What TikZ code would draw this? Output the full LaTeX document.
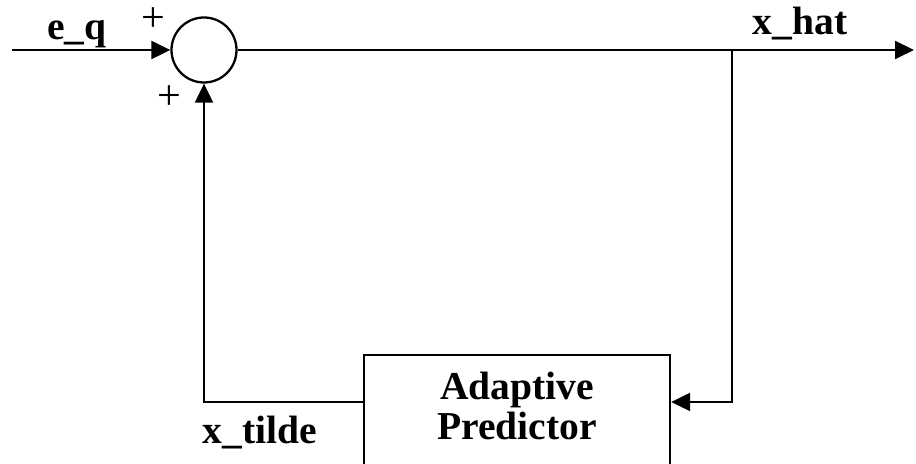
\documentclass[tikz,border=0pt]{standalone}
\usepackage{fontspec}
\setmainfont{Liberation Serif}
\usetikzlibrary{arrows.meta}

\tikzset{
    sig/.style={line width=1.3pt, -{Triangle[length=10.8pt, width=10.2pt]}},
    block/.style={draw, line width=1.3pt, minimum width=6.12cm, minimum height=2.56cm, inner sep=0pt},
    sumnode/.style={draw, circle, line width=1.3pt, minimum size=1.3cm, inner sep=0pt},
    lbl/.style={font=\bfseries\fontsize{22.5}{22.8}\selectfont, inner sep=0pt},
    sgn/.style={font=\fontsize{24}{26}\selectfont, inner sep=0pt}
}

\begin{document}
\begin{tikzpicture} %loop
            \useasboundingbox (0,0) rectangle (18.32,9.28);

            \node[sumnode] (sum) at (4.08,8.28) {};
            \node[block] (pred) at (10.34,0.9) {};
            \node[lbl, align=center, anchor=base] (predtxt) at (10.34,0.48) {Adaptive\\Predictor};

            \coordinate (in) at (0.24,8.28);
            \coordinate (out) at (18.28,8.28);
            \coordinate (br) at (14.64,8.28);
            \coordinate (fbr) at (14.64,1.24);
            \coordinate (fbl) at (4.08,1.24);

            \draw[sig] (in) -- (sum.west);
            \draw[sig] (sum.east) -- (out);
            \draw[sig] (br) -- (fbr) -- (pred.east |- fbr);
            \draw[sig] (pred.west |- fbl) -- (fbl) -- (sum.south);

            \node[lbl, anchor=base] (eq) at (1.54,8.48) {e\_q};
            \node[lbl, anchor=base] (xhat) at (16.0,8.58) {x\_hat};
            \node[lbl, anchor=base] (xtilde) at (5.2,0.4) {x\_tilde};
            \node[sgn] (plusa) at (3.06,8.88) {+};
            \node[sgn] (plusb) at (3.38,7.32) {+};
        \end{tikzpicture}
\end{document}
